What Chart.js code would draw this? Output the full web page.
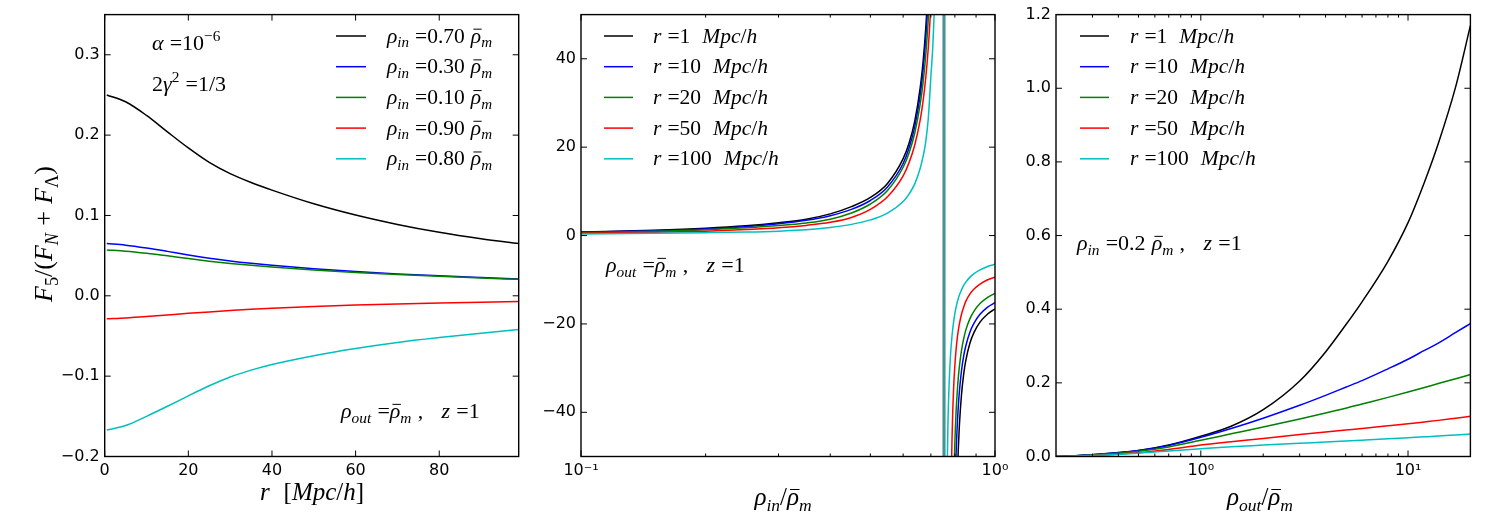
<!DOCTYPE html>
<html>
<head>
<meta charset="utf-8">
<script src="https://cdn.jsdelivr.net/npm/chart.js@4.4.0/dist/chart.umd.min.js"></script>
<style>
    body { margin: 0; background: #fff; }
    #wrap { position: relative; width: 1500px; height: 525px; }
    canvas { position: absolute; top: 0; }
</style>
</head>
<body>
<div id="wrap">
    <canvas id="c1" width="540" height="525" style="left:0px"></canvas>
    <canvas id="c2" width="480" height="525" style="left:540px"></canvas>
    <canvas id="c3" width="480" height="525" style="left:1020px"></canvas>
</div>
<script>
// ---- panel 1 : F5/(FN+FL) against r ----
var r1 = [0.5, 5, 10, 15, 20, 25, 30, 35, 40, 50, 60, 70, 80, 90, 99]
var f5_070 = [0.250, 0.2415, 0.2245, 0.204, 0.184, 0.166, 0.152, 0.141, 0.1315, 0.1145, 0.1005, 0.0888, 0.079, 0.071, 0.065]
var f5_030 = [0.065, 0.063, 0.0595, 0.0553, 0.0508, 0.0468, 0.0434, 0.0405, 0.038, 0.0337, 0.0302, 0.0273, 0.0249, 0.0228, 0.021]
var f5_010 = [0.057, 0.0556, 0.053, 0.0498, 0.0463, 0.0431, 0.0403, 0.0379, 0.0358, 0.0321, 0.029, 0.0264, 0.0242, 0.0222, 0.0205]
var f5_090 = [-0.0285, -0.0275, -0.0258, -0.0238, -0.0218, -0.02, -0.0183, -0.0167, -0.0154, -0.0132, -0.0115, -0.0101, -0.0089, -0.0079, -0.0071]
var f5_080 = [-0.167, -0.1615, -0.150, -0.1375, -0.1245, -0.112, -0.101, -0.0925, -0.0855, -0.0745, -0.0655, -0.058, -0.052, -0.0467, -0.042]
var legend1 = ['ρ_{in} =0.70 \\bar{ρ}_{m}', 'ρ_{in} =0.30 \\bar{ρ}_{m}', 'ρ_{in} =0.10 \\bar{ρ}_{m}', 'ρ_{in} =0.90 \\bar{ρ}_{m}', 'ρ_{in} =0.80 \\bar{ρ}_{m}']
var xTicks1 = [0, 20, 40, 60, 80]
var xLabels1 = ['0', '20', '40', '60', '80']
var yTicks1 = [-0.2, -0.1, 0, 0.1, 0.2, 0.3]
var yLabels1 = ['−0.2', '−0.1', '0.0', '0.1', '0.2', '0.3']

// ---- panel 2 : against rho_in, all curves jump at rho_in ~ 0.753 ----
var rhoIn = [0.1, 0.15, 0.2, 0.25, 0.3, 0.35, 0.4, 0.45, 0.5, 0.55, 0.6, 0.62, 0.64, 0.66, 0.67, 0.68, 0.69, 0.70, 0.71, 0.72, 0.73, 0.74, 0.752,
             0.754, 0.76, 0.765, 0.77, 0.775, 0.78, 0.785, 0.79, 0.795, 0.80, 0.805, 0.81, 0.815, 0.82, 0.83, 0.84, 0.85, 0.87, 0.89, 0.92, 0.96, 1.0]
var in_r1 = [0.8, 1.2, 1.65, 2.2, 2.9, 3.7, 4.9, 6.54, 8.62, 11.8, 17.4, 20.9, 25.9, 33.6, 39.1, 46.6, 57.3, 74, 103, 168, 431, 1000, 3000,
             -3000, -1500, -900, -600, -400, -280, -200, -150, -115, -89.3, -68.5, -56.5, -48.7, -43.2, -36.0, -31.4, -28.3, -24.3, -21.9, -19.6, -17.75, -16.6]
var in_r10 = [0.75, 1.1, 1.5, 2.0, 2.65, 3.45, 4.5, 5.92, 7.93, 11.0, 16.3, 19.8, 24.6, 31.9, 37.2, 44.3, 54.5, 70.2, 97.6, 157, 387, 900, 2800,
              -2800, -1300, -750, -500, -350, -250, -180, -104, -74.7, -59.3, -49.9, -43.6, -39.0, -35.5, -30.6, -27.3, -25.0, -21.8, -19.8, -17.8, -16.2, -15.2]
var in_r20 = [0.65, 0.95, 1.3, 1.75, 2.25, 2.85, 3.7, 5.1, 7.14, 10.2, 15.45, 18.7, 23.2, 29.9, 34.5, 40.6, 49.0, 61.1, 80.2, 115, 198, 647, 2500,
              -2500, -1100, -700, -500, -350, -207, -105, -72.4, -56.3, -46.7, -40.3, -35.8, -32.4, -29.8, -26.0, -23.4, -21.4, -18.8, -17.1, -15.4, -14.0, -13.1]
var in_r50 = [0.5, 0.72, 1.0, 1.35, 1.75, 2.3, 3.0, 4.1, 5.93, 8.78, 13.5, 16.5, 20.5, 26.3, 30.3, 35.5, 42.5, 52.3, 67.1, 92.2, 144, 311, 2000,
              -2000, -800, -500, -300, -153, -76.8, -52.7, -40.9, -33.9, -29.3, -26.0, -23.5, -21.6, -20.1, -17.8, -16.2, -14.9, -13.2, -12.1, -11.0, -10.0, -9.4]
var in_r100 = [0.35, 0.5, 0.65, 0.8, 1.0, 1.29, 1.82, 2.53, 3.54, 5.08, 7.72, 9.39, 11.7, 15.3, 17.8, 21.1, 26.5, 36, 46, 68.5, 141, 400, 1500,
               -650, -96.2, -57.7, -41.9, -33.3, -27.8, -24.1, -21.4, -19.3, -17.6, -16.3, -15.2, -14.3, -13.5, -12.3, -11.3, -10.55, -9.41, -8.6, -7.76, -7.0, -6.5]
var legendR = ['r =1  Mpc/h', 'r =10  Mpc/h', 'r =20  Mpc/h', 'r =50  Mpc/h', 'r =100  Mpc/h']
var xTicks2 = [0.1, 1]
var xLabels2 = ['10⁻¹', '10⁰']
var xMinor2 = [0.2, 0.3, 0.4, 0.5, 0.6, 0.7, 0.8, 0.9]
var yTicks2 = [-40, -20, 0, 20, 40]
var yLabels2 = ['−40', '−20', '0', '20', '40']

// ---- panel 3 : against rho_out ----
var rhoOut = [0.2, 0.3, 0.5, 0.7, 1, 1.4, 2, 3, 4, 5, 6, 8, 10, 12, 14, 17, 20]
var out_r1 = [0.0, 0.005, 0.016, 0.031, 0.055, 0.082, 0.127, 0.205, 0.284, 0.357, 0.42, 0.53, 0.635, 0.745, 0.85, 1.005, 1.17]
var out_r10 = [0.0, 0.005, 0.016, 0.030, 0.052, 0.076, 0.104, 0.139, 0.166, 0.188, 0.206, 0.238, 0.264, 0.288, 0.308, 0.337, 0.361]
var out_r20 = [0.0, 0.004, 0.014, 0.026, 0.044, 0.0615, 0.080, 0.102, 0.118, 0.131, 0.1425, 0.1605, 0.175, 0.1874, 0.198, 0.2113, 0.2225]
var out_r50 = [0.0, 0.003, 0.010, 0.019, 0.031, 0.040, 0.049, 0.0597, 0.0666, 0.0719, 0.0762, 0.0832, 0.0888, 0.0938, 0.0981, 0.104, 0.109]
var out_r100 = [0.0, 0.003, 0.009, 0.015, 0.021, 0.0264, 0.031, 0.0359, 0.0393, 0.042, 0.0443, 0.048, 0.051, 0.0534, 0.0555, 0.0585, 0.061]
var xTicks3 = [1, 10]
var xLabels3 = ['10⁰', '10¹']
var xMinor3 = [0.3, 0.4, 0.5, 0.6, 0.7, 0.8, 0.9, 2, 3, 4, 5, 6, 7, 8, 9]
var yTicks3 = [0, 0.2, 0.4, 0.6, 0.8, 1.0, 1.2]
var yLabels3 = ['0.0', '0.2', '0.4', '0.6', '0.8', '1.0', '1.2']

var colors = ['#000000', '#0000ff', '#008000', '#ff0000', '#00bfbf']
var jumpColor = '#28a0a0'
var mathFont = '"Liberation Serif"'

// tiny TeX-ish parser: _{..} ^{..} \bar{..}
function mathTokens(str) {
    var out = []
    var i = 0
    function group() {
        if (str[i] == '{') {
            var j = str.indexOf('}', i)
            var g = str.slice(i + 1, j)
            i = j + 1
            return g
        }
        return str[i++]
    }
    while (i < str.length) {
        var c = str[i]
        if (c == '_' || c == '^') {
            i++
            out.push({ t: group(), pos: c == '_' ? 'sub' : 'sup' })
        } else if (str.substr(i, 4) == '\\bar') {
            i += 4
            out.push({ t: group(), bar: true })
        } else {
            out.push({ t: c })
            i++
        }
    }
    return out
}

function drawMath(ctx, str, x, y, size, align) {
    var items = []
    var w = 0
    mathTokens(str).forEach(function (tk) {
        var sz = tk.pos ? size * 0.7 : size
        var dy = tk.pos == 'sub' ? size * 0.22 : (tk.pos == 'sup' ? -size * 0.42 : 0)
        for (var k = 0; k < tk.t.length; k++) {
            var ch = tk.t[k]
            if (ch == '-') ch = '−'
            var it = /[a-zA-Zα-ω]/.test(ch)
            var font = (it ? 'italic ' : '') + sz + 'px ' + mathFont
            ctx.font = font
            var cw = ch == ' ' ? size * 0.28 : ctx.measureText(ch).width
            items.push({ ch: ch, font: font, x: w, dy: dy, cw: cw, bar: tk.bar })
            w += cw
        }
    })
    var x0 = align == 'center' ? x - w / 2 : x
    ctx.fillStyle = '#000'
    ctx.strokeStyle = '#000'
    ctx.textBaseline = 'alphabetic'
    ctx.textAlign = 'left'
    items.forEach(function (p) {
        ctx.font = p.font
        ctx.fillText(p.ch, x0 + p.x, y + p.dy)
        if (p.bar) {
            ctx.lineWidth = 1
            ctx.beginPath()
            ctx.moveTo(x0 + p.x + p.cw * 0.25, y - size * 0.62)
            ctx.lineTo(x0 + p.x + p.cw * 1.05, y - size * 0.62)
            ctx.stroke()
        }
    })
}

function decor(off, d) {
    return {
        id: 'decor',
        afterDraw: function (chart) {
            var ctx = chart.ctx
            var a = chart.chartArea
            var xs = chart.scales.x
            var ys = chart.scales.y
            ctx.save()
            ctx.strokeStyle = '#000'
            ctx.lineWidth = 1
            function seg(x1, y1, x2, y2) {
                ctx.beginPath()
                ctx.moveTo(x1, y1)
                ctx.lineTo(x2, y2)
                ctx.stroke()
            }
            d.xMajor.forEach(function (v) {
                var p = xs.getPixelForValue(v)
                seg(p, a.bottom, p, a.bottom - 6)
                seg(p, a.top, p, a.top + 6)
            })
            ;(d.xMinor || []).forEach(function (v) {
                var p = xs.getPixelForValue(v)
                seg(p, a.bottom, p, a.bottom - 3)
                seg(p, a.top, p, a.top + 3)
            })
            d.yMajor.forEach(function (v) {
                var p = ys.getPixelForValue(v)
                seg(a.left, p, a.left + 6, p)
                seg(a.right, p, a.right - 6, p)
            })
            ctx.lineWidth = 1.4
            ctx.strokeRect(a.left, a.top, a.right - a.left, a.bottom - a.top)

            // legend (no frame, like the original)
            d.legend.forEach(function (txt, i) {
                var yy = 36 + 30.7 * i
                ctx.strokeStyle = colors[i]
                ctx.lineWidth = 1.5
                seg(d.legX[0] - off, yy, d.legX[1] - off, yy)
                drawMath(ctx, txt, d.legX[2] - off, yy + 6.5, 21.5, 'left')
            })
            d.notes.forEach(function (n) {
                drawMath(ctx, n[0], n[1] - off, n[2], 22, 'left')
            })
            drawMath(ctx, d.xTitle[0], d.xTitle[1] - off, d.xTitle[2], 25, 'center')
            if (d.yTitle) {
                ctx.save()
                ctx.translate(d.yTitle[1] - off, d.yTitle[2])
                ctx.rotate(-Math.PI / 2)
                drawMath(ctx, d.yTitle[0], 0, 0, 26, 'center')
                ctx.restore()
            }
            ctx.restore()
        }
    }
}

// the jump across the pole shows up as one vertical teal stroke in the original
function isJump(c) {
    return c.p0.parsed.y > 100 && c.p1.parsed.y < -100
}

function series(xs, ys, i) {
    return {
        data: xs.map(function (x, k) { return { x: x, y: ys[k] } }),
        borderColor: colors[i],
        borderWidth: 1.5,
        pointRadius: 0,
        showLine: true,
        fill: false,
        cubicInterpolationMode: 'monotone',
        capBezierPoints: false,
        order: 10 - i,
        segment: {
            borderWidth: function (c) { return isJump(c) ? 2.2 : undefined },
            borderColor: function (c) { return isJump(c) && i == 4 ? jumpColor : undefined }
        }
    }
}

function axis(type, min, max, ticks, labels, isX, fit) {
    return {
        type: type,
        min: min,
        max: max,
        grid: { display: false, drawTicks: false },
        border: { display: false },
        afterBuildTicks: function (s) { s.ticks = ticks.map(function (v) { return { value: v } }) },
        afterFit: function (s) { if (isX) s.height = fit; else s.width = fit },
        ticks: {
            autoSkip: false,
            maxRotation: 0,
            padding: 5,
            color: '#000',
            font: { family: 'DejaVu Sans', size: 16 },
            callback: function (v, i) { return labels[i] }
        }
    }
}

function makePanel(id, padRight, xAxis, yAxis, datasets, plug) {
    new Chart(document.getElementById(id), {
        type: 'scatter',
        data: { datasets: datasets },
        options: {
            responsive: false,
            animation: false,
            events: [],
            layout: { padding: { left: 0, right: padRight, top: 10, bottom: 0 } },
            scales: { x: xAxis, y: yAxis },
            plugins: { legend: { display: false }, tooltip: { enabled: false } }
        },
        plugins: [plug]
    })
}

Chart.defaults.font.family = 'DejaVu Sans'

makePanel('c1', 21.3,
    axis('linear', 0, 99, xTicks1, xLabels1, true, 68.5),
    axis('linear', -0.2, 0.35, yTicks1, yLabels1, false, 104.7),
    [series(r1, f5_070, 0), series(r1, f5_030, 1), series(r1, f5_010, 2), series(r1, f5_090, 3), series(r1, f5_080, 4)],
    decor(0, {
        xMajor: xTicks1, yMajor: yTicks1, legend: legend1, legX: [336, 366, 387],
        notes: [['α =10^{-6}', 152, 50], ['2γ^{2} =1/3', 152, 91], ['ρ_{out} =\\bar{ρ}_{m} ,   z =1', 341, 418]],
        xTitle: ['r  [Mpc/h]', 312, 500],
        yTitle: ['F_{5}/(F_{N} + F_{Λ})', 52, 234]
    }))

makePanel('c2', 25,
    axis('logarithmic', 0.1, 1, xTicks2, xLabels2, true, 68.5),
    axis('linear', -50, 50, yTicks2, yLabels2, false, 41),
    [series(rhoIn, in_r1, 0), series(rhoIn, in_r10, 1), series(rhoIn, in_r20, 2), series(rhoIn, in_r50, 3), series(rhoIn, in_r100, 4)],
    decor(540, {
        xMajor: xTicks2, xMinor: xMinor2, yMajor: yTicks2, legend: legendR, legX: [604, 633, 653],
        notes: [['ρ_{out} =\\bar{ρ}_{m} ,   z =1', 606, 272]],
        xTitle: ['ρ_{in}/\\bar{ρ}_{m}', 783, 505]
    }))

makePanel('c3', 29.6,
    axis('logarithmic', 0.2, 20, xTicks3, xLabels3, true, 68.5),
    axis('linear', 0, 1.2, yTicks3, yLabels3, false, 36),
    [series(rhoOut, out_r1, 0), series(rhoOut, out_r10, 1), series(rhoOut, out_r20, 2), series(rhoOut, out_r50, 3), series(rhoOut, out_r100, 4)],
    decor(1020, {
        xMajor: xTicks3, xMinor: xMinor3, yMajor: yTicks3, legend: legendR, legX: [1080, 1109, 1130],
        notes: [['ρ_{in} =0.2 \\bar{ρ}_{m} ,   z =1', 1077, 250]],
        xTitle: ['ρ_{out}/\\bar{ρ}_{m}', 1260, 505]
    }))
</script>
</body>
</html>
